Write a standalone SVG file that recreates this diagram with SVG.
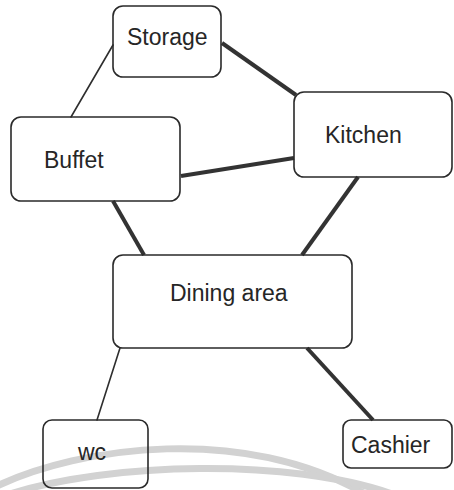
<svg xmlns="http://www.w3.org/2000/svg" width="454" height="490" viewBox="0 0 454 490">
  <style>
    .box { fill: none; stroke: #2a2a2a; stroke-width: 1.6; }
    .label { font-family: "Liberation Sans", Arial, sans-serif; font-size: 23px; fill: #262626; }
    .thin { stroke: #2e2e2e; stroke-width: 1.6; fill: none; stroke-linecap: round; }
    .thick { stroke: #333333; stroke-width: 4; fill: none; stroke-linecap: butt; }
    .band { stroke: #d2d2d2; stroke-width: 7; fill: none; }
  </style>
  <rect width="454" height="490" fill="#ffffff"/>

  <!-- background bands -->
  <g id="bands">
    <path class="band" d="M -5 487 C 80 446, 245 424, 365 494"/>
    <path class="band" d="M 10 494 C 110 462, 290 458, 392 494"/>
  </g>

  <!-- connectors -->
  <g id="connectors">
    <line class="thin" x1="113" y1="45" x2="71" y2="117"/>
    <line class="thick" x1="222" y1="43" x2="296" y2="95"/>
    <line class="thick" x1="181" y1="176" x2="294" y2="158"/>
    <line class="thick" x1="113" y1="201" x2="144" y2="255"/>
    <line class="thick" x1="358" y1="177" x2="302" y2="255"/>
    <line class="thin" x1="120" y1="348" x2="97" y2="420"/>
    <line class="thick" x1="307" y1="348" x2="373" y2="420"/>
  </g>

  <g id="storage">
    <rect class="box" x="113" y="6" width="108" height="71" rx="10"/>
    <text class="label" x="127" y="45">Storage</text>
  </g>

  <g id="kitchen">
    <rect class="box" x="294" y="92" width="158" height="85" rx="10"/>
    <text class="label" x="325" y="143">Kitchen</text>
  </g>

  <g id="buffet">
    <rect class="box" x="11" y="117" width="169" height="84" rx="10"/>
    <text class="label" x="44" y="168">Buffet</text>
  </g>

  <g id="dining-area">
    <rect class="box" x="113" y="255" width="239" height="93" rx="10"/>
    <text class="label" x="170" y="301">Dining area</text>
  </g>

  <g id="wc">
    <rect class="box" x="43" y="420" width="105" height="68" rx="9"/>
    <text class="label" x="78" y="460">wc</text>
  </g>

  <g id="cashier">
    <rect class="box" x="343" y="420" width="109" height="48" rx="8"/>
    <text class="label" x="351" y="453">Cashier</text>
  </g>
</svg>
